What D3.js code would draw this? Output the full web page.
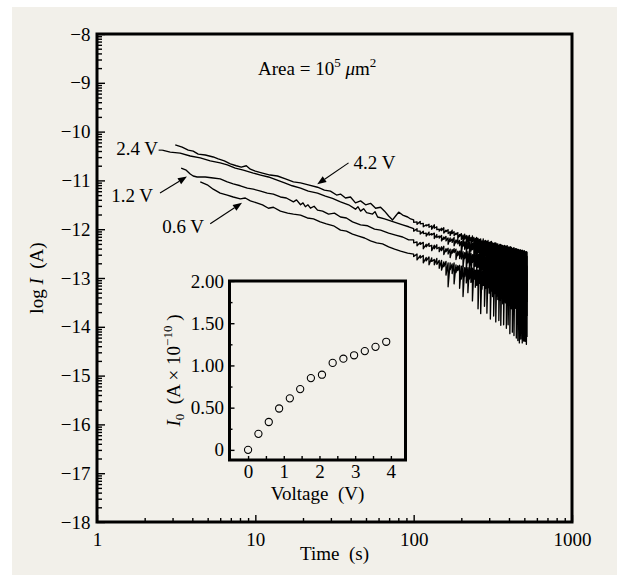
<!DOCTYPE html>
<html>
<head>
<meta charset="utf-8">
<script src="https://cdn.jsdelivr.net/npm/d3@7"></script>
<style>
  body { margin: 0; background: #fff; }
  svg text { font-family: "Liberation Serif", "Times New Roman", serif; fill: #000; }
  .tick text { font-size: 19px; }
  .lbl { font-size: 19px; white-space: pre; }
</style>
</head>
<body>
<svg id="chart" width="617" height="575"></svg>
<script>
// ---- data ----
// main plot: log I (A) vs time (s), four bias voltages
const voltLabels = ["4.2 V", "2.4 V", "1.2 V", "0.6 V"];

// early part of each trace: [time, logI]
const head42 = [[3.12,-10.27],[3.45,-10.32],[3.77,-10.38],[4.05,-10.40],[4.36,-10.46],[4.83,-10.48],[5.42,-10.52],[5.83,-10.56],[6.37,-10.60],[6.95,-10.66],[7.58,-10.70],[8.15,-10.73],[8.77,-10.70],[9.3,-10.77],[10.0,-10.81],[11.1,-10.85],[12.4,-10.89],[13.8,-10.91],[15.5,-10.97],[17.4,-11.03],[19.3,-11.05],[21.6,-11.09],[24.7,-11.14],[27.3,-11.20],[29.8,-11.22],[32.6,-11.30],[34.5,-11.28],[37.1,-11.36],[39.9,-11.34],[42.9,-11.46],[46.2,-11.42],[49.7,-11.50],[53.4,-11.47],[57.5,-11.57],[61.8,-11.55],[65.5,-11.63],[69.5,-11.73],[73.6,-11.81],[76.9,-11.73],[80.4,-11.65],[85.2,-11.71],[91.6,-11.75],[95.7,-11.79]];
const head24 = [[2.58,-10.38],[2.90,-10.42],[3.35,-10.44],[3.88,-10.50],[4.49,-10.54],[5.19,-10.60],[6.00,-10.64],[6.65,-10.68],[7.47,-10.75],[8.40,-10.79],[9.71,-10.85],[10.8,-10.89],[12.1,-10.93],[13.6,-10.99],[15.3,-11.05],[17.1,-11.11],[19.3,-11.16],[21.6,-11.22],[24.7,-11.26],[27.7,-11.32],[30.7,-11.37],[34.5,-11.44],[38.8,-11.50],[42.9,-11.59],[44.5,-11.54],[46.2,-11.63],[48.3,-11.58],[50.4,-11.66],[55.0,-11.69],[57.0,-11.64],[59.2,-11.75],[65.5,-11.79],[71.5,-11.83],[78.0,-11.87],[85.2,-11.91],[93.0,-11.95]];
const head12 = [[3.40,-10.75],[3.66,-10.79],[3.88,-10.87],[4.05,-10.91],[4.29,-10.93],[4.83,-10.93],[5.42,-10.95],[6.00,-10.97],[6.65,-11.03],[7.25,-11.07],[8.04,-11.11],[8.90,-11.16],[9.71,-11.18],[10.8,-11.22],[11.9,-11.26],[13.0,-11.28],[14.4,-11.34],[15.7,-11.36],[17.4,-11.44],[18.2,-11.40],[19.3,-11.50],[20.0,-11.46],[20.7,-11.54],[21.5,-11.50],[22.3,-11.57],[23.5,-11.53],[24.7,-11.61],[26.6,-11.63],[29.0,-11.69],[31.6,-11.67],[34.5,-11.75],[37.6,-11.77],[41.1,-11.85],[46.2,-11.91],[51.2,-11.93],[56.6,-12.00],[61.8,-12.02],[69.5,-12.08],[76.9,-12.12],[85.2,-12.16],[93.0,-12.22]];
const head06 = [[4.49,-11.03],[4.97,-11.09],[5.42,-11.18],[6.00,-11.26],[6.65,-11.30],[7.25,-11.34],[8.04,-11.38],[8.64,-11.36],[9.30,-11.42],[10.2,-11.46],[11.1,-11.50],[12.1,-11.57],[13.0,-11.55],[14.4,-11.63],[16.0,-11.67],[17.4,-11.69],[19.3,-11.71],[21.3,-11.77],[23.3,-11.79],[25.7,-11.85],[28.1,-11.89],[31.2,-11.93],[34.5,-12.02],[37.6,-12.04],[41.1,-12.10],[44.9,-12.14],[49.0,-12.18],[53.4,-12.24],[58.3,-12.28],[63.6,-12.30],[69.5,-12.36],[75.8,-12.41],[82.7,-12.45],[91.6,-12.49]];

// noisy tail: per 5 s bin, the upper (hi) and lower (lo) reading of each trace
const tailTimes = [100,105,110,115,120,125,130,135,140,145,150,155,160,165,170,175,180,185,190,195,200,205,210,215,220,225,230,235,240,245,250,255,260,265,270,275,280,285,290,295,300,305,310,315,320,325,330,335,340,345,350,355,360,365,370,375,380,385,390,395,400,405,410,415,420,425,430,435,440,445,450,455,460,465,470,475,480,485,490,495,500,505,510,515,520];

const hi42 = [-11.81,-11.85,-11.84,-11.88,-11.91,-11.90,-11.93,-11.91,-11.95,-12.00,
  -11.98,-11.97,-12.02,-12.01,-12.05,-12.02,-12.05,-12.08,-12.07,-12.11,
  -12.09,-12.12,-12.10,-12.13,-12.14,-12.13,-12.17,-12.14,-12.17,-12.19,
  -12.17,-12.19,-12.21,-12.20,-12.24,-12.20,-12.24,-12.23,-12.25,-12.23,
  -12.27,-12.26,-12.25,-12.28,-12.29,-12.28,-12.28,-12.30,-12.30,-12.33,
  -12.31,-12.31,-12.33,-12.33,-12.35,-12.33,-12.35,-12.35,-12.34,-12.38,
  -12.36,-12.38,-12.36,-12.38,-12.40,-12.39,-12.38,-12.41,-12.40,-12.40,
  -12.42,-12.41,-12.42,-12.44,-12.42,-12.43,-12.45,-12.43,-12.44,-12.46,
  -12.44,-12.46,-12.47,-12.46,-12.47];
const lo42 = [-11.86,-11.90,-11.89,-11.95,-11.93,-11.96,-12.00,-11.98,-12.01,-12.04,
  -12.03,-12.08,-12.05,-12.09,-12.13,-12.09,-12.13,-12.11,-12.19,-12.15,
  -12.21,-12.32,-12.20,-12.28,-12.39,-12.24,-12.32,-12.25,-12.40,-12.31,
  -12.38,-12.48,-12.31,-12.37,-12.55,-12.35,-12.48,-12.39,-12.61,-12.42,
  -12.47,-12.66,-12.43,-12.55,-12.71,-12.48,-12.61,-12.53,-12.77,-12.58,
  -12.61,-12.84,-12.54,-12.70,-12.90,-12.66,-12.76,-12.62,-12.95,-12.76,
  -12.83,-13.01,-12.69,-12.90,-13.08,-12.76,-12.96,-12.84,-13.12,-12.91,
  -12.95,-13.19,-12.84,-13.04,-13.25,-12.95,-13.11,-12.91,-13.31,-13.05,
  -13.09,-13.36,-13.03,-13.19,-13.27];

const hi24 = [-11.99,-11.99,-12.04,-12.04,-12.08,-12.06,-12.09,-12.08,-12.11,-12.14,
  -12.13,-12.16,-12.15,-12.18,-12.18,-12.20,-12.17,-12.22,-12.21,-12.23,
  -12.25,-12.24,-12.26,-12.25,-12.28,-12.26,-12.30,-12.28,-12.28,-12.31,
  -12.31,-12.32,-12.31,-12.35,-12.34,-12.32,-12.35,-12.37,-12.36,-12.37,
  -12.36,-12.40,-12.38,-12.40,-12.38,-12.40,-12.43,-12.40,-12.43,-12.43,
  -12.43,-12.42,-12.43,-12.46,-12.44,-12.44,-12.46,-12.46,-12.48,-12.46,
  -12.47,-12.49,-12.47,-12.49,-12.51,-12.48,-12.50,-12.50,-12.49,-12.52,
  -12.50,-12.52,-12.54,-12.51,-12.54,-12.53,-12.53,-12.55,-12.54,-12.57,
  -12.55,-12.55,-12.57,-12.57,-12.56];
const lo24 = [-12.04,-12.04,-12.10,-12.09,-12.14,-12.12,-12.12,-12.19,-12.17,-12.18,
  -12.24,-12.21,-12.24,-12.31,-12.25,-12.27,-12.34,-12.28,-12.30,-12.34,
  -12.50,-12.35,-12.41,-12.48,-12.39,-12.56,-12.45,-12.42,-12.61,-12.50,
  -12.65,-12.48,-12.58,-12.73,-12.56,-12.63,-12.78,-12.55,-12.73,-12.64,
  -12.84,-12.62,-12.78,-12.71,-12.91,-12.70,-12.83,-12.98,-12.76,-12.89,
  -13.02,-12.80,-12.93,-13.08,-12.86,-13.02,-13.15,-12.93,-13.08,-12.99,
  -13.21,-12.98,-13.10,-13.29,-13.06,-13.19,-13.33,-13.10,-13.27,-13.15,
  -13.41,-13.19,-13.32,-13.46,-13.25,-13.40,-13.54,-13.31,-13.46,-13.37,
  -13.57,-13.40,-13.53,-13.47,-13.49];

const hi12 = [-12.22,-12.26,-12.27,-12.27,-12.31,-12.29,-12.33,-12.33,-12.32,-12.37,
  -12.36,-12.35,-12.40,-12.39,-12.41,-12.42,-12.40,-12.41,-12.45,-12.45,
  -12.43,-12.46,-12.48,-12.47,-12.46,-12.49,-12.49,-12.52,-12.52,-12.51,
  -12.53,-12.51,-12.51,-12.54,-12.56,-12.53,-12.55,-12.57,-12.56,-12.59,
  -12.57,-12.57,-12.59,-12.61,-12.59,-12.61,-12.60,-12.61,-12.64,-12.62,
  -12.61,-12.64,-12.63,-12.63,-12.66,-12.65,-12.66,-12.65,-12.66,-12.68,
  -12.67,-12.66,-12.69,-12.68,-12.67,-12.70,-12.69,-12.72,-12.69,-12.71,
  -12.70,-12.73,-12.70,-12.72,-12.72,-12.71,-12.75,-12.73,-12.74,-12.73,
  -12.75,-12.75,-12.74,-12.78,-12.76];
const lo12 = [-12.28,-12.34,-12.31,-12.40,-12.36,-12.35,-12.44,-12.40,-12.40,-12.46,
  -12.44,-12.52,-12.46,-12.51,-12.58,-12.49,-12.48,-12.62,-12.54,-12.60,
  -12.61,-12.77,-12.60,-12.84,-12.69,-12.76,-12.91,-12.68,-12.83,-12.76,
  -12.85,-12.78,-12.89,-13.03,-12.84,-12.94,-13.09,-12.88,-13.04,-12.95,
  -13.04,-13.00,-13.10,-13.23,-13.06,-13.20,-13.31,-13.11,-13.24,-13.17,
  -13.19,-13.15,-13.30,-13.41,-13.26,-13.37,-13.47,-13.30,-13.43,-13.27,
  -13.38,-13.29,-13.51,-13.35,-13.45,-13.56,-13.39,-13.50,-13.62,-13.45,
  -13.52,-13.43,-13.61,-13.48,-13.66,-13.52,-13.60,-13.47,-13.70,-13.56,
  -13.66,-13.55,-13.72,-13.63,-13.78];

const hi06 = [-12.51,-12.51,-12.54,-12.54,-12.58,-12.57,-12.59,-12.62,-12.60,-12.64,
  -12.64,-12.67,-12.66,-12.69,-12.69,-12.71,-12.69,-12.73,-12.75,-12.74,
  -12.76,-12.75,-12.79,-12.78,-12.79,-12.77,-12.81,-12.80,-12.82,-12.84,
  -12.82,-12.84,-12.84,-12.87,-12.85,-12.86,-12.88,-12.87,-12.87,-12.89,
  -12.91,-12.90,-12.89,-12.92,-12.93,-12.92,-12.94,-12.92,-12.96,-12.95,
  -12.94,-12.97,-12.96,-12.95,-12.96,-12.99,-12.96,-12.99,-12.98,-13.01,
  -13.00,-12.99,-13.00,-13.03,-13.02,-13.01,-13.00,-13.04,-13.02,-13.04,
  -13.02,-13.05,-13.06,-13.04,-13.04,-13.06,-13.06,-13.08,-13.07,-13.06,
  -13.09,-13.08,-13.09,-13.08,-13.10];
const lo06 = [-12.56,-12.63,-12.59,-12.69,-12.65,-12.73,-12.66,-12.73,-12.72,-12.80,
  -12.84,-12.77,-12.94,-13.18,-12.83,-12.91,-13.12,-12.89,-12.85,-13.21,
  -13.02,-13.38,-12.97,-13.10,-13.30,-13.02,-13.09,-13.47,-13.03,-13.19,
  -13.15,-13.63,-13.11,-13.73,-13.23,-13.15,-13.58,-13.21,-13.72,-13.20,
  -13.31,-13.84,-13.27,-13.38,-13.78,-13.32,-13.90,-13.37,-13.44,-13.87,
  -13.46,-13.97,-13.42,-13.53,-13.96,-13.47,-13.51,-14.03,-13.50,-13.96,
  -13.56,-14.14,-13.52,-13.63,-14.11,-13.55,-14.18,-13.62,-13.59,-14.23,
  -13.65,-14.28,-13.64,-14.33,-13.69,-14.25,-13.73,-14.33,-13.68,-14.29,
  -13.71,-14.30,-13.68,-14.36,-14.21];

// inset: I0 vs voltage
const insetVolt = [0, 0.29, 0.58, 0.87, 1.17, 1.46, 1.76, 2.07, 2.37, 2.67, 2.97, 3.27, 3.57, 3.87];
const insetI0 = [0.00, 0.19, 0.33, 0.49, 0.61, 0.72, 0.85, 0.89, 1.03, 1.08, 1.12, 1.17, 1.22, 1.28];

// tick values
const xMajor = [1, 10, 100, 1000];
const yMajor = [-18, -17, -16, -15, -14, -13, -12, -11, -10, -9, -8];
const insetXMajor = [0, 1, 2, 3, 4];
const insetXMinor = [0.5, 1.5, 2.5, 3.5];
const insetYMajor = [0, 0.5, 1, 1.5, 2];
const insetYMinor = [0.25, 0.75, 1.25, 1.75];

// ---- layout ----
const W = 617, H = 575;
const plot = { left: 97, right: 572, top: 34, bottom: 522 };
const ins = { left: 229.5, right: 405.5, top: 281, bottom: 460 };
const bg = "#f2f0ea";

const svg = d3.select("#chart");
svg.append("rect").attr("x", 12).attr("y", 7).attr("width", W - 12).attr("height", H - 7).attr("fill", bg);

const x = d3.scaleLog().domain([1, 1000]).range([plot.left, plot.right]);
const y = d3.scaleLinear().domain([-18, -8]).range([plot.bottom, plot.top]);

// minor ticks, log-style on both axes
const xMinor = [];
[1, 10, 100].forEach(d => { for (let k = 2; k < 10; k++) xMinor.push(k * d); });
const yMinor = [];
for (let n = -18; n < -8; n++) for (let k = 2; k < 10; k++) yMinor.push(n + Math.log10(k));

function tidy(g) {
  g.select(".domain").remove();
  g.selectAll(".tick line").attr("stroke", "#000").attr("stroke-width", 1.4);
  g.attr("font-family", null).attr("font-size", null);
}

svg.append("g").attr("transform", `translate(0,${plot.bottom})`)
  .call(d3.axisBottom(x).tickValues(xMinor).tickSize(-4).tickFormat("")).call(tidy);
svg.append("g").attr("transform", `translate(0,${plot.bottom})`)
  .call(d3.axisBottom(x).tickValues(xMajor).tickSize(-7).tickPadding(11).tickFormat(d3.format("d"))).call(tidy);
svg.append("g").attr("transform", `translate(${plot.left},0)`)
  .call(d3.axisLeft(y).tickValues(yMinor).tickSize(-5).tickFormat("")).call(tidy);
svg.append("g").attr("transform", `translate(${plot.left},0)`)
  .call(d3.axisLeft(y).tickValues(yMajor).tickSize(-8).tickPadding(6.5).tickFormat(d3.format("d"))).call(tidy);

// traces: smooth head, then hi/lo of each tail bin in time order
function trace(head, hi, lo) {
  const pts = head.slice();
  tailTimes.forEach((t, i) => { pts.push([t, hi[i]]); pts.push([t, lo[i]]); });
  return pts;
}
const traces = [
  trace(head42, hi42, lo42),
  trace(head24, hi24, lo24),
  trace(head12, hi12, lo12),
  trace(head06, hi06, lo06)
];
const line = d3.line().x(d => x(d[0])).y(d => y(d[1]));
svg.append("g").selectAll("path").data(traces).join("path")
  .attr("d", line)
  .attr("fill", "none")
  .attr("stroke", "#000")
  .attr("stroke-width", 1.35)
  .attr("stroke-linejoin", "round");

// frame
svg.append("rect")
  .attr("x", plot.left).attr("y", plot.top)
  .attr("width", plot.right - plot.left).attr("height", plot.bottom - plot.top)
  .attr("fill", "none").attr("stroke", "#000").attr("stroke-width", 3);

// annotations (data coordinates)
const notes = [
  { text: voltLabels[0], at: [41.7, -10.77], anchor: "start", from: [38.8, -10.64], to: [24.6, -11.08], head: true },
  { text: voltLabels[1], at: [2.43, -10.48], anchor: "end", from: [2.45, -10.38], to: [2.58, -10.38], head: false },
  { text: voltLabels[2], at: [2.26, -11.44], anchor: "end", from: [2.50, -11.26], to: [3.70, -10.92], head: true },
  { text: voltLabels[3], at: [2.58, -12.08], anchor: "start", from: [5.19, -11.89], to: [8.24, -11.46], head: true }
];
notes.forEach(n => {
  svg.append("text").attr("class", "lbl")
    .attr("x", x(n.at[0])).attr("y", y(n.at[1]))
    .attr("text-anchor", n.anchor).text(n.text);
  const x1 = x(n.from[0]), y1 = y(n.from[1]), x2 = x(n.to[0]), y2 = y(n.to[1]);
  const len = Math.hypot(x2 - x1, y2 - y1), ux = (x2 - x1) / len, uy = (y2 - y1) / len;
  const hl = n.head ? 9 : 0, hw = 3.5;
  const bx = x2 - ux * hl, by = y2 - uy * hl;
  svg.append("line").attr("x1", x1).attr("y1", y1).attr("x2", bx).attr("y2", by)
    .attr("stroke", "#000").attr("stroke-width", 1.1);
  if (n.head) {
    svg.append("path")
      .attr("d", `M${x2},${y2}L${bx - uy * hw},${by + ux * hw}L${bx + uy * hw},${by - ux * hw}Z`)
      .attr("fill", "#000");
  }
});

// title
const title = svg.append("text").attr("class", "lbl")
  .attr("x", x(10.4)).attr("y", y(-8.84));
title.append("tspan").text("Area = 10");
title.append("tspan").attr("dy", -8).attr("font-size", 13).text("5");
title.append("tspan").attr("dy", 8).text(" ");
title.append("tspan").attr("font-style", "italic").text("\u03bc");
title.append("tspan").text("m");
title.append("tspan").attr("dy", -8).attr("font-size", 13).text("2");

// axis titles
svg.append("text").attr("class", "lbl").attr("text-anchor", "middle")
  .attr("x", (plot.left + plot.right) / 2).attr("y", 560).text("Time  (s)");
const yl = svg.append("text").attr("class", "lbl").attr("text-anchor", "middle")
  .attr("transform", `translate(43,${(plot.top + plot.bottom) / 2}) rotate(-90)`);
yl.append("tspan").text("log ");
yl.append("tspan").attr("font-style", "italic").text("I");
yl.append("tspan").text("  (A)");

// ---- inset ----
const xi = d3.scaleLinear().domain([-0.52, 4.41]).range([ins.left, ins.right]);
const yi = d3.scaleLinear().domain([-0.12, 2]).range([ins.bottom, ins.top]);

svg.append("rect")
  .attr("x", ins.left).attr("y", ins.top)
  .attr("width", ins.right - ins.left).attr("height", ins.bottom - ins.top)
  .attr("fill", bg);

svg.append("g").attr("transform", `translate(0,${ins.bottom})`)
  .call(d3.axisBottom(xi).tickValues(insetXMinor).tickSize(-4).tickFormat("")).call(tidy);
svg.append("g").attr("transform", `translate(0,${ins.bottom})`)
  .call(d3.axisBottom(xi).tickValues(insetXMajor).tickSize(-4).tickPadding(5).tickFormat(d3.format("d"))).call(tidy);
svg.append("g").attr("transform", `translate(${ins.left},0)`)
  .call(d3.axisLeft(yi).tickValues(insetYMinor).tickSize(-3).tickFormat("")).call(tidy);
svg.append("g").attr("transform", `translate(${ins.left},0)`)
  .call(d3.axisLeft(yi).tickValues(insetYMajor).tickSize(-5).tickPadding(5.5)
    .tickFormat(d => d === 0 ? "0" : d.toFixed(2))).call(tidy);

svg.append("g").selectAll("circle").data(insetVolt).join("circle")
  .attr("cx", d => xi(d))
  .attr("cy", (d, i) => yi(insetI0[i]))
  .attr("r", 3.6)
  .attr("fill", "none")
  .attr("stroke", "#000")
  .attr("stroke-width", 1.1);

svg.append("rect")
  .attr("x", ins.left).attr("y", ins.top)
  .attr("width", ins.right - ins.left).attr("height", ins.bottom - ins.top)
  .attr("fill", "none").attr("stroke", "#000").attr("stroke-width", 3);

svg.append("text").attr("class", "lbl").attr("text-anchor", "middle")
  .attr("x", (ins.left + ins.right) / 2).attr("y", 500).text("Voltage  (V)");
const il = svg.append("text").attr("class", "lbl").attr("text-anchor", "middle")
  .attr("transform", `translate(180,${(ins.top + ins.bottom) / 2}) rotate(-90)`);
il.append("tspan").attr("font-style", "italic").text("I");
il.append("tspan").attr("dy", 4).attr("font-size", 13).text("0");
il.append("tspan").attr("dy", -4).text("  (A \u00d7 10");
il.append("tspan").attr("dy", -8).attr("font-size", 13).text("\u221210");
il.append("tspan").attr("dy", 8).text(" )");
</script>
</body>
</html>
